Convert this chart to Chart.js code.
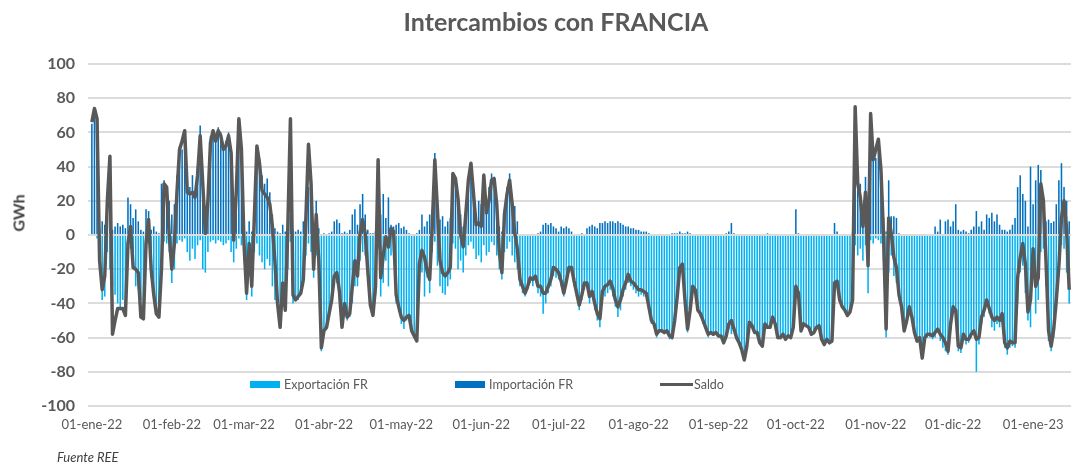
<!DOCTYPE html>
<html>
<head>
<meta charset="utf-8">
<script src="https://cdn.jsdelivr.net/npm/chart.js@4.4.1/dist/chart.umd.min.js"></script>
<style>
  body { margin: 0; background: #fff; font-family: Lato, "Open Sans", sans-serif; color: #595959; }
  #wrap { position: relative; width: 1071px; height: 466px; }
  #myChart { position: absolute; left: 0; top: 0; }
  .title { position: absolute; left: 0; width: 1112px; top: 6px; text-align: center; font-weight: bold; font-size: 25px; color: #595959; }
  .ytitle { position: absolute; left: 18px; top: 213px; transform: translate(-50%, -50%) rotate(-90deg); font-weight: bold; font-size: 16px; color: #404040; }
  .leg { position: absolute; top: 377px; font-size: 12.5px; color: #595959; line-height: 16px; }
  .sw { display: inline-block; width: 30px; height: 7px; vertical-align: middle; margin-right: 4px; margin-top: -2px; }
  .ln { display: inline-block; width: 33px; height: 3px; background: #595959; vertical-align: middle; margin-right: 1px; margin-top: -2px; }
  .src { position: absolute; left: 57px; top: 449px; font-style: italic; font-size: 13px; color: #404040; }
</style>
</head>
<body>
<div id="wrap">
  <canvas id="myChart" width="1071" height="466"></canvas>
  <div class="title">Intercambios con FRANCIA</div>
  <div class="ytitle">GWh</div>
  <div class="leg" style="left:250px"><span class="sw" style="background:#00b0f0"></span>Exportación FR</div>
  <div class="leg" style="left:455px"><span class="sw" style="background:#0070c0"></span>Importación FR</div>
  <div class="leg" style="left:660px"><span class="ln"></span>Saldo</div>
  <div class="src">Fuente REE</div>
</div>
<script>
// dias desde 01-ene-22 en los que va cada etiqueta del eje
var monthDays = [0, 31, 59, 90, 120, 151, 181, 212, 243, 273, 304, 334, 365]
var monthLabels = ['01-ene-22', '01-feb-22', '01-mar-22', '01-abr-22', '01-may-22', '01-jun-22',
    '01-jul-22', '01-ago-22', '01-sep-22', '01-oct-22', '01-nov-22', '01-dic-22', '01-ene-23']

// saldo diario (GWh)
var saldo = [
    66, 74, 68, -15, -32, -24, 20, 46, -58, -50,
    -43, -43, -43, -47, -5, 5, -19, -20, -22, -48,
    -49, -5, 9, -20, -35, -46, -48, -20, 30, 28,
    0, -20, -5, 25, 50, 55, 61, 25, 24, 25,
    22, 35, 58, 30, 1, 20, 54, 61, 55, 61,
    58, 50, 52, 58, 48, -3, 25, 68, 50, -5,
    -34, -5, -30, 10, 52, 42, 26, 24, 22, 18,
    5, -16, -40, -54, -28, -44, 5, 68, -35, -38,
    -36, -34, -26, 10, 53, 30, -20, 12, -15, -66,
    -56, -54, -46, -38, -24, -22, -33, -54, -40, -48,
    -46, -30, -15, -24, 1, 9, 1, -21, -41, -47,
    -30, 44, -25, -12, -1, -7, 4, 2, -35, -42,
    -48, -50, -48, -47, -56, -59, -62, -17, -9, -13,
    -21, -26, 5, 44, 15, -15, -22, -24, -22, -19,
    36, 33, 21, 0, -7, 12, 32, 42, 24, 6,
    7, 5, 35, 13, 20, 32, 33, 18, -10, -22,
    12, 24, 32, 18, 1, -8, -26, -30, -34, -30,
    -25, -26, -24, -30, -30, -34, -34, -30, -26, -19,
    -20, -22, -27, -34, -27, -19, -19, -27, -34, -41,
    -35, -28, -28, -36, -33, -40, -46, -49, -33, -30,
    -29, -27, -31, -38, -42, -38, -32, -28, -23, -27,
    -28, -30, -32, -32, -33, -34, -42, -50, -52, -58,
    -56, -56, -57, -56, -59, -60, -50, -36, -19, -17,
    -38, -55, -44, -30, -32, -44, -46, -50, -54, -58,
    -57, -58, -57, -59, -59, -63, -59, -52, -50, -55,
    -60, -63, -67, -73, -65, -51, -53, -57, -57, -63,
    -65, -52, -54, -54, -48, -52, -60, -60, -58, -61,
    -59, -60, -54, -30, -34, -56, -52, -53, -54, -58,
    -57, -54, -53, -61, -64, -61, -63, -62, -28, -27,
    -38, -42, -44, -47, -45, -38, 75, 30, 22, 5,
    25, -18, 71, 44, 50, 56, 38, 0, -55, 10,
    1, -13, -19, -35, -42, -56, -50, -42, -48, -57,
    -62, -60, -72, -60, -58, -58, -59, -57, -55, -58,
    -60, -63, -68, -52, -42, -44, -65, -66, -58, -61,
    -61, -58, -56, -61, -60, -48, -44, -38, -43, -48,
    -50, -48, -50, -46, -63, -66, -62, -63, -63, -25,
    -13, -5, -17, -45, -38, -8, -30, -25, 30, 20,
    -15, -56, -65, -55, -38, -18, 10, 20, 3, -32
]

// importacion diaria (positivo)
var importacion = [
    65, 72, 60, 4, 8, 6, 10, 12, 3, 5,
    7, 5, 6, 4, 22, 18, 10, 15, 8, 3,
    2, 15, 14, 3, 5, 2, 1, 30, 32, 28,
    20, 12, 18, 35, 52, 50, 60, 32, 28, 35,
    25, 40, 64, 35, 8, 25, 58, 62, 56, 63,
    60, 54, 55, 60, 50, 5, 30, 66, 52, 3,
    2, 8, 2, 15, 50, 45, 35, 30, 33, 25,
    12, 4, 2, 1, 6, 2, 8, 12, 3, 2,
    3, 2, 8, 15, 28, 20, 3, 20, 4, 0,
    1, 0, 1, 2, 8, 9, 7, 1, 2, 1,
    3, 12, 15, 6, 18, 24, 12, 3, 1, 1,
    2, 20, 12, 24, 10, 22, 6, 5, 6, 7,
    4, 5, 3, 1, 0, 0, 1, 3, 12, 5,
    8, 12, 15, 48, 15, 9, 11, 5, 8, 10,
    36, 30, 25, 12, 5, 15, 30, 40, 25, 12,
    20, 18, 36, 20, 28, 36, 34, 20, 5, 2,
    15, 28, 36, 24, 17, 8, 0, 0, 0, 0,
    0, 0, 0, 1, 2, 6, 7, 6, 7, 5,
    4, 2, 5, 4, 5, 4, 2, 0, 0, 0,
    1, 0, 4, 5, 6, 5, 4, 7, 7, 8,
    7, 8, 8, 7, 8, 7, 6, 5, 5, 4,
    4, 3, 3, 2, 2, 2, 1, 0, 0, 0,
    0, 0, 0, 0, 0, 1, 1, 1, 2, 1,
    1, 2, 1, 0, 0, 0, 0, 0, 0, 0,
    0, 0, 0, 0, 0, 0, 1, 2, 7, 1,
    0, 0, 0, 0, 0, 0, 0, 0, 0, 0,
    0, 0, 1, 0, 0, 0, 0, 0, 0, 0,
    0, 0, 0, 15, 1, 0, 0, 0, 0, 0,
    0, 0, 0, 0, 0, 0, 0, 0, 7, 2,
    0, 0, 0, 0, 0, 2, 70, 35, 30, 12,
    34, 20, 60, 48, 45, 50, 38, 10, 2, 32,
    11, 11, 10, 1, 0, 0, 0, 0, 0, 0,
    0, 0, 0, 0, 0, 0, 0, 5, 2, 9,
    0, 8, 9, 5, 8, 18, 3, 2, 3, 2,
    1, 3, 5, 14, 5, 8, 3, 12, 10, 13,
    8, 12, 6, 3, 3, 2, 3, 6, 10, 28,
    35, 24, 20, 5, 40, 18, 32, 41, 38, 22,
    8, 9, 7, 8, 18, 32, 42, 28, 20, 8
]

// exportacion diaria (negativo)
var exportacion = [
    0, 0, -2, -20, -38, -36, -10, -20, -30, -35,
    -40, -44, -38, -42, -10, -8, -18, -30, -32, -38,
    -45, -10, -5, -25, -38, -42, -44, -12, -4, -5,
    -10, -28, -20, -5, -3, -4, -2, -10, -15, -8,
    -14, -6, -3, -20, -22, -10, -4, -3, -5, -3,
    -4, -6, -5, -3, -10, -16, -8, -2, -6, -15,
    -38, -20, -36, -10, -5, -12, -16, -20, -14, -18,
    -30, -38, -40, -42, -30, -42, -20, -4, -40, -36,
    -38, -35, -30, -12, -5, -10, -25, -12, -20, -68,
    -58, -55, -48, -40, -30, -28, -35, -52, -44, -50,
    -48, -40, -30, -30, -15, -10, -12, -24, -40, -44,
    -35, -8, -36, -28, -15, -30, -12, -10, -40, -45,
    -52, -55, -50, -48, -55, -58, -60, -28, -22, -36,
    -25, -34, -10, -4, -18, -30, -34, -35, -30, -26,
    -5, -8, -20, -15, -22, -12, -6, -4, -8, -14,
    -12, -16, -6, -12, -10, -4, -6, -12, -20, -26,
    -10, -8, -4, -12, -16, -20, -30, -34, -36, -32,
    -28, -30, -26, -34, -36, -46, -40, -34, -30, -24,
    -25, -26, -30, -36, -30, -22, -22, -30, -36, -44,
    -38, -32, -30, -40, -36, -44, -50, -54, -38, -36,
    -34, -32, -36, -42, -48, -44, -36, -32, -28, -30,
    -32, -34, -36, -35, -36, -36, -44, -52, -54, -60,
    -57, -57, -58, -57, -61, -61, -52, -38, -22, -20,
    -40, -57, -46, -32, -33, -45, -48, -52, -55, -60,
    -58, -59, -58, -60, -60, -64, -61, -55, -58, -56,
    -61, -64, -68, -74, -66, -52, -54, -58, -58, -64,
    -66, -53, -55, -55, -49, -53, -61, -61, -59, -62,
    -60, -61, -55, -34, -35, -57, -53, -54, -55, -59,
    -58, -55, -54, -62, -65, -62, -64, -63, -34, -29,
    -39, -43, -45, -48, -46, -40, -6, -12, -8, -15,
    -6, -34, -3, -5, -2, -3, -5, -15, -60, -22,
    -12, -24, -28, -38, -44, -57, -52, -45, -50, -58,
    -63, -62, -72, -62, -60, -60, -61, -60, -57, -62,
    -66, -68, -70, -56, -46, -48, -68, -69, -62, -64,
    -63, -60, -58, -80, -64, -52, -48, -42, -46, -54,
    -56, -52, -54, -50, -66, -70, -66, -65, -66, -40,
    -22, -18, -34, -50, -54, -20, -46, -38, -10, -8,
    -30, -62, -68, -60, -44, -24, -6, -8, -22, -40
]

function toPoints(arr) {
    var pts = []
    for (var i = 0; i < arr.length; i++) {
        pts.push({x: i, y: arr[i]})
    }
    return pts
}

var data = {
    datasets: [{
        type: 'line',
        label: 'Saldo',
        data: toPoints(saldo),
        borderColor: '#595959',
        borderWidth: 3.5,
        pointRadius: 0,
        tension: 0,
        borderJoinStyle: 'round',
        order: 0
    }, {
        type: 'bar',
        label: 'Importación FR',
        data: toPoints(importacion),
        backgroundColor: '#0070c0',
        grouped: false,
        barPercentage: 0.6,
        categoryPercentage: 1,
        order: 2
    }, {
        type: 'bar',
        label: 'Exportación FR',
        data: toPoints(exportacion),
        backgroundColor: '#00b0f0',
        grouped: false,
        barPercentage: 0.6,
        categoryPercentage: 1,
        order: 1
    }]
}

var config = {
    type: 'bar',
    data: data,
    options: {
        responsive: false,
        animation: false,
        devicePixelRatio: 1,
        layout: { padding: { top: 64, left: 0, right: 0, bottom: 0 } },
        plugins: {
            legend: { display: false },
            tooltip: { enabled: false }
        },
        scales: {
            x: {
                type: 'linear',
                offset: false,
                min: -1.5,
                max: 379.7,
                grid: { display: false },
                border: { display: false },
                afterBuildTicks: function(scale) {
                    scale.ticks = monthDays.map(function(d) { return {value: d} })
                },
                afterFit: function(scale) { scale.height = 60 },
                ticks: {
                    autoSkip: false,
                    maxRotation: 0,
                    padding: 3,
                    color: '#595959',
                    font: { family: 'Lato', size: 13 },
                    callback: function(v) { return monthLabels[monthDays.indexOf(v)] }
                }
            },
            y: {
                min: -100,
                max: 100,
                grid: { color: '#dcdcdc', lineWidth: 2, drawTicks: false },
                border: { display: false },
                afterFit: function(scale) { scale.width = 88 },
                ticks: {
                    stepSize: 20,
                    padding: 13,
                    color: '#595959',
                    font: { family: 'Lato', size: 16, weight: 'bold' }
                }
            }
        }
    }
}

var myChart = new Chart(document.getElementById('myChart'), config)
</script>
</body>
</html>
